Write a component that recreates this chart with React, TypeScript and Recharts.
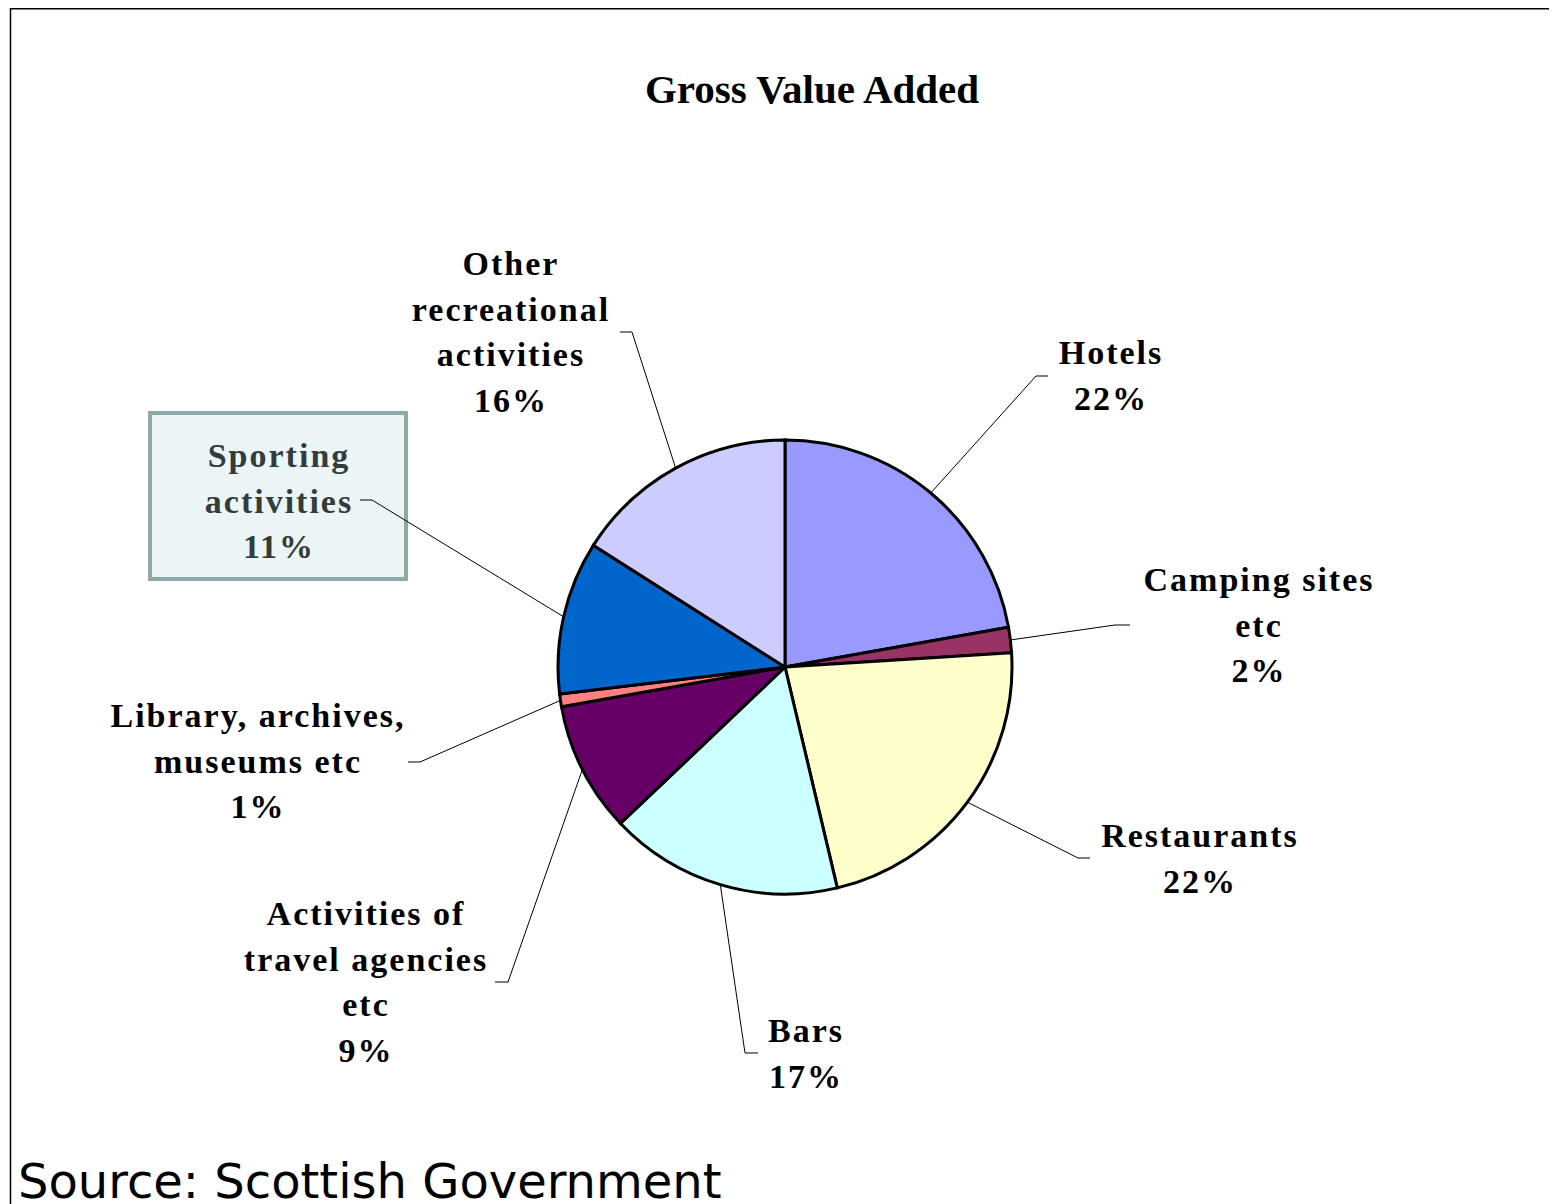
import React from "react";
import { PieChart, Pie, Cell } from "recharts";

const categories = [
  "Hotels",
  "Camping sites\netc",
  "Restaurants",
  "Bars",
  "Activities of\ntravel agencies\netc",
  "Library, archives,\nmuseums etc",
  "Sporting\nactivities",
  "Other\nrecreational\nactivities",
];
const values = [22.2, 1.8, 22.3, 16.6, 9.3, 0.9, 10.9, 16.0];
const colors = ["#9999FF", "#993366", "#FFFFCC", "#CCFFFF", "#660066", "#FF8080", "#0066CC", "#CCCCFF"];

const chartTitle = "Gross Value Added";
const sourceText = "Source: Scottish Government";

// label layout relative to pie centre (text x, first baseline y, elbow, horizontal end)
const labelLayout = [
  { tx: 325, ty: -303, ex: 251, ey: -291, hx: 263 },
  { tx: 473, ty: -76, ex: 330, ey: -42, hx: 345 },
  { tx: 414, ty: 180, ex: 293, ey: 191, hx: 305 },
  { tx: 20, ty: 375, ex: -40, ey: 386, hx: -27 },
  { tx: -420, ty: 258, ex: -277, ey: 315, hx: -290 },
  { tx: -528, ty: 60, ex: -365, ey: 95, hx: -377 },
  { tx: -507, ty: -200, ex: -413, ey: -167, hx: -425, box: { x: -635, y: -254, w: 256, h: 166 } },
  { tx: -275, ty: -392, ex: -153, ey: -335, hx: -165 },
];

const total = values.reduce((a, b) => a + b, 0);
const data = categories.map((name, i) => ({ name, value: values[i] }));

const W = 1549;
const H = 1196;
const CX = 777;
const CY = 659;
const R = 227;
const LINE_H = 45.5;
const SERIF = "'Liberation Serif', 'Times New Roman', serif";

const RAD = Math.PI / 180;

function renderLabel(props: any) {
  const { cx, cy, midAngle, outerRadius, index, value } = props;
  const lay = labelLayout[index];
  const sx = cx + outerRadius * Math.cos(-midAngle * RAD);
  const sy = cy + outerRadius * Math.sin(-midAngle * RAD);
  const lines = categories[index].split("\n").concat([`${Math.round((value / total) * 100)}%`]);
  const isBox = !!lay.box;
  return (
    <g key={`lab-${index}`}>
      {lay.box && (
        <rect
          x={cx + lay.box.x}
          y={cy + lay.box.y}
          width={lay.box.w}
          height={lay.box.h}
          fill="#EBF5F6"
          stroke="#8FA8A8"
          strokeWidth={4}
        />
      )}
      <polyline
        points={`${sx},${sy} ${cx + lay.ex},${cy + lay.ey} ${cx + lay.hx},${cy + lay.ey}`}
        fill="none"
        stroke="#000"
        strokeWidth={1}
      />
      {lines.map((ln, j) => (
        <text
          key={j}
          x={cx + lay.tx + 1}
          y={cy + lay.ty + j * LINE_H}
          textAnchor="middle"
          fontFamily={SERIF}
          fontWeight="bold"
          fontSize={34}
          letterSpacing={2}
          fill={isBox ? "#333C3C" : "#000"}
        >
          {ln}
        </text>
      ))}
    </g>
  );
}

export default function App() {
  return (
    <div style={{ position: "relative", width: W, height: H, overflow: "hidden", background: "#fff" }}>
      <div style={{ position: "absolute", left: 0, top: 0 }}>
        <PieChart width={W} height={H} margin={{ top: 0, right: 0, bottom: 0, left: 0 }}>
          <Pie
            data={data}
            dataKey="value"
            nameKey="name"
            cx={CX}
            cy={CY}
            outerRadius={R}
            startAngle={90}
            endAngle={-270}
            stroke="#000"
            strokeWidth={3}
            label={renderLabel}
            labelLine={false}
            isAnimationActive={false}
          >
            {data.map((d, i) => (
              <Cell key={d.name} fill={colors[i]} />
            ))}
          </Pie>
        </PieChart>
      </div>
      <svg
        width={W}
        height={H}
        style={{ position: "absolute", left: 0, top: 0, pointerEvents: "none" }}
      >
        <line x1={2} y1={0.75} x2={W} y2={0.75} stroke="#000" strokeWidth={1.5} />
        <line x1={2.5} y1={0} x2={2.5} y2={H} stroke="#000" strokeWidth={1.5} />
        <text
          x={804}
          y={95}
          textAnchor="middle"
          fontFamily={SERIF}
          fontWeight="bold"
          fontSize={41}
          fill="#000"
        >
          {chartTitle}
        </text>
        <text x={10} y={1190} fontFamily="'DejaVu Sans', Verdana, sans-serif" fontSize={48} fill="#000">
          {sourceText}
        </text>
      </svg>
    </div>
  );
}
